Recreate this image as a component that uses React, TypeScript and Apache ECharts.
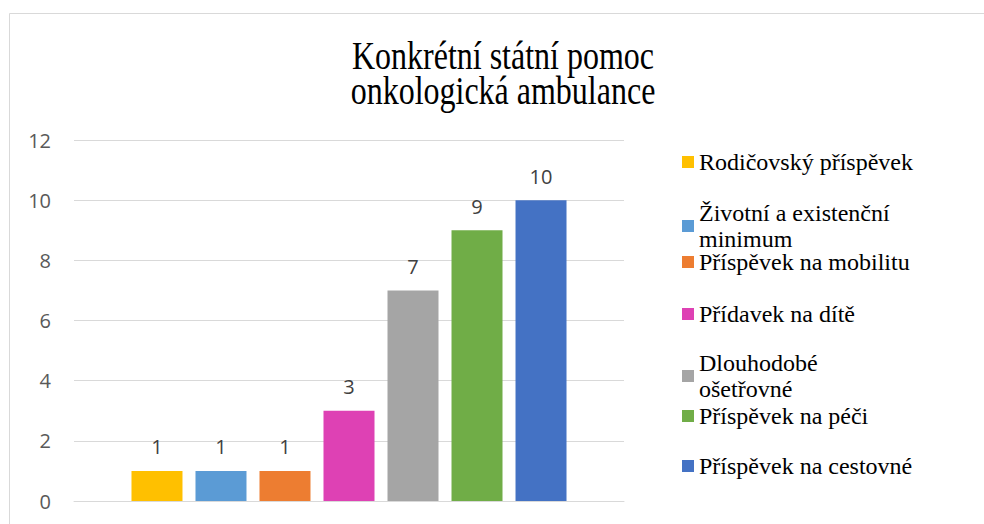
import React, { useEffect, useRef } from "react";
import * as echarts from "echarts";

const titleLines = ["Konkrétní státní pomoc", "onkologická ambulance"];
const seriesNames = [
  "Rodičovský příspěvek",
  "Životní a existenční minimum",
  "Příspěvek na mobilitu",
  "Přídavek na dítě",
  "Dlouhodobé ošetřovné",
  "Příspěvek na péči",
  "Příspěvek na cestovné",
];
const legendLabels = [
  "Rodičovský příspěvek",
  "Životní a existenční\nminimum",
  "Příspěvek na mobilitu",
  "Přídavek na dítě",
  "Dlouhodobé\nošetřovné",
  "Příspěvek na péči",
  "Příspěvek na cestovné",
];
const seriesValues = [1, 1, 1, 3, 7, 9, 10];
const seriesColors = ["#FFC000", "#5B9BD5", "#ED7D31", "#DE41B4", "#A5A5A5", "#70AD47", "#4472C4"];
const categories = [""];
const yMin = 0;
const yMax = 12;
const yInterval = 2;

// legend vertical centres (layout)
const legendCenters = [162, 214, 262, 314, 364, 416, 466];

export default function App() {
  const ref = useRef<HTMLDivElement>(null);
  useEffect(() => {
    if (!ref.current) return;
    const chart = echarts.init(ref.current, null, { renderer: "svg" });
    const sansFont = '"Open Sans", "Noto Sans", sans-serif';
    const serifFont = '"Liberation Serif", "DejaVu Serif", serif';
    chart.setOption({
      animation: false,
      backgroundColor: "#ffffff",
      grid: { left: 74, right: 360, top: 140, bottom: 23, containLabel: false },
      xAxis: {
        type: "category",
        data: categories,
        axisLabel: { show: false },
        axisTick: { show: false },
        axisLine: { show: true, lineStyle: { color: "#d9d9d9", width: 1 } },
      },
      yAxis: {
        type: "value",
        min: yMin,
        max: yMax,
        interval: yInterval,
        axisLine: { show: false },
        axisTick: { show: false },
        axisLabel: { color: "#595959", fontFamily: sansFont, fontSize: 20, margin: 23 },
        splitLine: { lineStyle: { color: "#d9d9d9", width: 1 } },
      },
      legend: seriesNames.map((name, i) => ({
        data: [name],
        orient: "vertical",
        left: 682,
        top: legendCenters[i] - 13,
        padding: 0,
        icon: "rect",
        itemWidth: 12,
        itemHeight: 12,
        formatter: () => legendLabels[i],
        textStyle: {
          fontFamily: serifFont,
          fontSize: 24,
          color: "#000000",
          lineHeight: 26,
          height: 26,
        },
      })),
      graphic: [
        {
          type: "rect",
          shape: { x: 9.5, y: 13.5, width: 1200, height: 800 },
          style: { fill: "none", stroke: "#d9d9d9", lineWidth: 1 },
          silent: true,
          z: -1,
        },
        {
          type: "text",
          x: 503,
          y: 38,
          scaleX: 1,
          scaleY: 1.27,
          style: {
            text: titleLines.join("\n"),
            font: '32px "Liberation Serif", "DejaVu Serif", serif',
            fill: "#000000",
            textAlign: "center",
            textVerticalAlign: "top",
            lineHeight: 27.6,
          },
        },
      ],
      series: seriesNames.map((name, i) => ({
        name,
        type: "bar",
        data: [seriesValues[i]],
        barWidth: 51,
        barGap: "25.5%",
        itemStyle: { color: seriesColors[i] },
        label: {
          show: true,
          position: "top",
          distance: 14,
          color: "#404040",
          fontFamily: sansFont,
          fontSize: 20,
        },
      })),
    });
    return () => chart.dispose();
  }, []);
  return (
    <div
      ref={ref}
      style={{ position: "fixed", left: 0, top: 0, width: 984, height: 524 }}
    />
  );
}
